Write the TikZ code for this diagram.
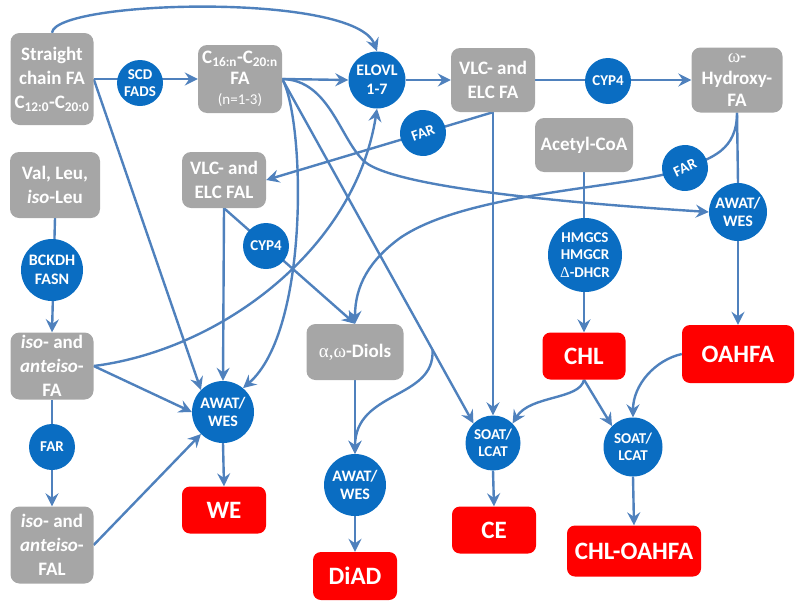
\documentclass[tikz,border=0pt]{standalone}
\usepackage{fontspec}
\setmainfont{Carlito}
\newfontfamily\grk{Liberation Serif}
\usetikzlibrary{arrows.meta,backgrounds,calc}
\definecolor{lineblue}{HTML}{4F81BD}
\definecolor{circblue}{HTML}{0A6DC2}
\definecolor{boxgray}{HTML}{A6A6A6}
\definecolor{boxred}{HTML}{FF0000}
\begin{document}
\begin{tikzpicture}[x=1pt,y=-1pt,
 gbox/.style={rectangle,rounded corners=9pt,fill=boxgray,text=white,font=\bfseries\fontsize{19}{24}\selectfont,align=center,inner sep=0pt},
 rbox/.style={rectangle,rounded corners=8pt,fill=boxred,text=white,font=\bfseries\fontsize{25}{30}\selectfont,align=center,inner sep=0pt},
 enz/.style={circle,fill=circblue,text=white,font=\bfseries\fontsize{16}{18.5}\selectfont,align=center,inner sep=0pt},
 enzs/.style={enz,font=\bfseries\fontsize{15}{17.5}\selectfont},
 conn/.style={draw=lineblue,line width=2.4pt},
 arr/.style={conn,-{Stealth[length=13pt,width=13pt,inset=4.5pt]}},
]
\useasboundingbox (0,0) rectangle (800,608);
% gray boxes
\node[gbox,minimum width=83pt,minimum height=92pt] (scfa) at (52,79) {Straight\\chain FA\\C\textsubscript{12:0}-C\textsubscript{20:0}};
\node[gbox,minimum width=84pt,minimum height=68pt] (c16) at (240,79) {C\textsubscript{16:n}-C\textsubscript{20:n}\\[-3pt]FA\\[-4pt]{\fontsize{15}{16}\selectfont\mdseries(n=1-3)}};
\node[gbox,minimum width=84pt,minimum height=64pt] (vlcfa) at (493,80) {VLC- and\\ELC FA};
\node[gbox,minimum width=91pt,minimum height=65pt] (ohfa) at (737,80) {{\grk\mdseries ω}-\\[-2pt]Hydroxy-\\[-2pt]FA};
\node[gbox,minimum width=98pt,minimum height=54pt] (acoa) at (584,145) {Acetyl-CoA};
\node[gbox,minimum width=84pt,minimum height=56pt] (vlcfal) at (224,180) {VLC- and\\ELC FAL};
\node[gbox,minimum width=90pt,minimum height=66pt] (vall) at (55,185) {Val, Leu,\\\textit{iso}-Leu};
\node[gbox,minimum width=83pt,minimum height=67pt] (isofa) at (52,366) {\textit{iso}- and\\\textit{anteiso}-\\FA};
\node[gbox,minimum width=97pt,minimum height=56pt] (diols) at (355,352) {{\grk\mdseries α,ω}-Diols};
\node[gbox,minimum width=83pt,minimum height=77pt] (isofal) at (52,545) {\textit{iso}- and\\\textit{anteiso}-\\FAL};
% red boxes
\node[rbox,minimum width=83pt,minimum height=47pt] (chl) at (584,356) {CHL};
\node[rbox,minimum width=112pt,minimum height=58pt] (oahfa) at (738,354) {OAHFA};
\node[rbox,minimum width=84pt,minimum height=47pt] (we) at (224,510) {WE};
\node[rbox,minimum width=84pt,minimum height=48pt] (diad) at (355,576) {DiAD};
\node[rbox,minimum width=84pt,minimum height=47pt] (ce) at (494,530) {CE};
\node[rbox,minimum width=134pt,minimum height=51pt] (chloahfa) at (634,551) {CHL-OAHFA};
% enzymes
\node[enzs,minimum size=46pt] (scd) at (140,83) {SCD\\FADS};
\node[enz,minimum size=57pt] (elovl) at (377,80) {ELOVL\\1-7};
\node[enzs,minimum size=46pt] (cyp4a) at (608,81) {CYP4};
\node[enzs,minimum size=46pt,rotate=20] (far1) at (423,133) {FAR};
\node[enzs,minimum size=46pt,rotate=25] (far2) at (685,168) {FAR};
\node[enz,minimum size=58pt] (awat1) at (738,212) {AWAT/\\WES};
\node[enz,minimum size=62pt] (bckdh) at (52,270) {BCKDH\\FASN};
\node[enzs,minimum size=46pt] (cyp4b) at (266,246) {CYP4};
\node[enzs,minimum size=74pt] (hmg) at (585,255) {HMGCS\\HMGCR\\{\grk\mdseries Δ}-DHCR};
\node[enz,minimum size=62pt] (awatwe) at (223,412) {AWAT/\\WES};
\node[enzs,minimum size=46pt] (farb) at (52,447) {FAR};
\node[enz,minimum size=62pt] (awatd) at (355,485) {AWAT/\\WES};
\node[enzs,minimum size=55pt] (soat1) at (493,443) {SOAT/\\LCAT};
\node[enzs,minimum size=59pt] (soat2) at (633,447) {SOAT/\\LCAT};
\coordinate (br) at ($(c16.east)!0.786!(soat1.135)$);
\begin{pgfonlayer}{background}
\draw[arr] (scfa.north) .. controls (55,0) and (355,-8) .. (elovl.north);
\draw[arr] (scfa.east) -- (c16.west);
\draw[arr] (scfa.east) -- (awatwe.north west);
\draw[arr] (c16.east) -- (elovl.west);
\draw[arr] (c16.east) .. controls (305,120) and (310,330) .. (awatwe.50);
\draw[arr] (c16.east) -- (soat1.135);
\draw[arr] (c16.east) .. controls (330,80) and (340,140) .. (365,162) .. controls (400,190) and (600,205) .. (awat1.west);
\draw[arr] (br) .. controls ($(br)+(3,50)$) and (355,390) .. (awatd.north);
\draw[arr] (elovl.east) -- (vlcfa.west);
\draw[arr] (vlcfa.east) -- (ohfa.west);
\draw[arr] (vlcfa.south) -- (vlcfal.east);
\draw[arr] (vlcfa.south) -- (soat1.north);
\draw[conn] (ohfa.south) -- (awat1.north);
\draw[arr] (ohfa.south) .. controls (737,150) and (712,158) .. (far2.center) .. controls (640,188) and (470,190) .. (400,238) .. controls (370,260) and (355,285) .. (diols.north);
\draw[arr] (vlcfal.south) -- (awatwe.north);
\draw[arr] (vlcfal.south) -- (diols.north);
\draw[arr] (acoa.south) -- (chl.north);
\draw[arr] (awat1.south) -- (oahfa.north);
\draw[arr] (chl.south) .. controls (580,400) and (530,395) .. (soat1.45);
\draw[arr] (chl.south) -- (soat2.135);
\draw[arr] (oahfa.west) .. controls (655,360) and (633,385) .. (soat2.north);
\draw[arr] (diols.south) -- (awatd.north);
\draw[arr] (awatd.south) -- (diad.north);
\draw[arr] (soat1.south) -- (ce.north);
\draw[arr] (soat2.south) -- (chloahfa.north);
\draw[arr] (awatwe.south) -- (we.north);
\draw[arr] (vall.south) -- (isofa.north);
\draw[arr] (isofa.south) -- (isofal.north);
\draw[arr] (isofal.east) -- (awatwe.225);
\draw[arr] (isofa.east) -- (awatwe.west);
\draw[arr] (isofa.east) .. controls (220,350) and (355,250) .. (elovl.south);
\end{pgfonlayer}
\end{tikzpicture}
\end{document}
